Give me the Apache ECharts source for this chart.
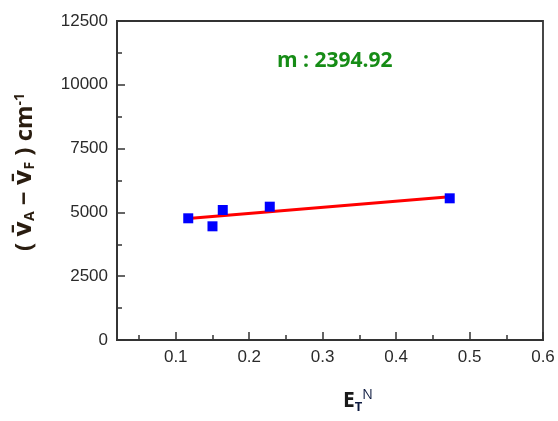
<!DOCTYPE html>
<html><head><meta charset="utf-8">
<script src="https://cdn.jsdelivr.net/npm/echarts@6/dist/echarts.min.js"></script>
<style>html,body{margin:0;padding:0;background:#fff}#c{width:558px;height:421px}</style>
</head><body><div id="c"></div>
<script>
// Data
var xVals = [0.117, 0.150, 0.164, 0.228, 0.473];
var yVals = [4769, 4455, 5094, 5224, 5552];
var fitX = [0.117, 0.473];
var fitY = [4757, 5610];
var xTickLabels = [0.1, 0.2, 0.3, 0.4, 0.5, 0.6];
var xMinorTicks = [0.05, 0.15, 0.25, 0.35, 0.45, 0.55];
var slopeText = 'm : 2394.92';

var pts = xVals.map(function(x, i){ return [x, yVals[i]]; });
var fit = fitX.map(function(x, i){ return [x, fitY[i]]; });

var chart = echarts.init(document.getElementById('c'));
var labelFont = {color:'#2a2a2a', fontSize:17, fontFamily:'Liberation Sans, Arial, sans-serif'};
var dark = '#2a1d10';
chart.setOption({
  animation:false,
  backgroundColor:'#fff',
  grid:{left:117, right:15, top:21, bottom:81, show:true, borderColor:'#333', borderWidth:1.8, backgroundColor:'transparent'},
  xAxis:[{
    type:'value', min:0.02, max:0.6,
    axisLine:{show:true, lineStyle:{color:'#333', width:1.8}},
    axisTick:{show:true, inside:true, length:8, customValues:xTickLabels, lineStyle:{color:'#333', width:1.5}},
    axisLabel:Object.assign({margin:9, customValues:xTickLabels, formatter:function(v){return String(Math.round(v*10)/10);}}, labelFont),
    splitLine:{show:false}
  },{
    type:'value', min:0.02, max:0.6, position:'bottom',
    axisLine:{show:false},
    axisTick:{show:true, inside:true, length:5, customValues:xMinorTicks, lineStyle:{color:'#333', width:1.5}},
    axisLabel:{show:false},
    splitLine:{show:false}
  }],
  yAxis:{
    type:'value', min:0, max:12500, interval:2500,
    axisLine:{show:true, lineStyle:{color:'#333', width:1.8}},
    axisTick:{show:true, inside:true, length:8, lineStyle:{color:'#333', width:1.5}},
    minorTick:{show:true, splitNumber:2, length:5, lineStyle:{color:'#333', width:1.5}},
    axisLabel:Object.assign({margin:9, formatter:function(v){return String(v);}}, labelFont),
    splitLine:{show:false}
  },
  series:[{
    type:'line', data:fit, showSymbol:false, symbol:'none',
    lineStyle:{color:'#ff0000', width:3}, z:2
  },{
    type:'scatter', data:pts, symbol:'rect', symbolSize:10,
    itemStyle:{color:'#0000ff', opacity:1}, z:3
  }],
  graphic:[{
    type:'text', left:277, top:51,
    style:{text:slopeText, fill:'#168c16', font:'bold 21px "Open Sans", sans-serif'}
  },{
    type:'text', x:25, y:172, rotation:Math.PI/2,
    style:{
      text:'{p|( }{v|v\u0304}{s|A}{p| \u2212 }{v|v\u0304}{s|F}{p| ) cm}{u|-1}',
      align:'center', verticalAlign:'middle',
      rich:{
        p:{fill:dark, font:'bold 24px "Open Sans", sans-serif'},
        v:{fill:dark, font:'bold 24px "DejaVu Sans", sans-serif'},
        s:{fill:dark, font:'bold 14px "Open Sans", sans-serif', verticalAlign:'bottom', padding:[10,0,0,0]},
        u:{fill:dark, font:'bold 14px "Open Sans", sans-serif', verticalAlign:'top', padding:[0,0,10,0]}
      }
    }
  },{
    type:'text', left:343, top:388,
    style:{
      text:'{e|E}{t|T}{n|N}',
      rich:{
        e:{fill:'#1a1a1a', font:'bold 21px "Open Sans", sans-serif'},
        t:{fill:'#0d1a40', font:'bold 13px "Open Sans", sans-serif', verticalAlign:'bottom', padding:[12,0,0,0]},
        n:{fill:'#0d1a40', font:'14px "Open Sans", sans-serif', verticalAlign:'top', padding:[0,0,12,0]}
      }
    }
  }]
});
</script></body></html>
